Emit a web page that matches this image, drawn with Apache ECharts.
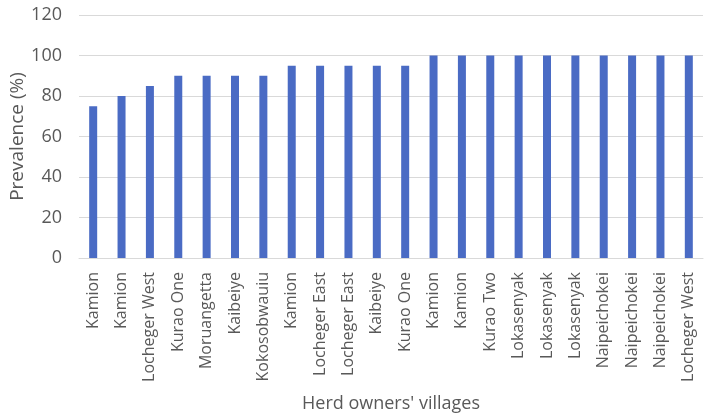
<!DOCTYPE html>
<html><head><meta charset="utf-8">
<script src="https://cdn.jsdelivr.net/npm/echarts@6/dist/echarts.min.js"></script>
<style>html,body{margin:0;padding:0;background:#fff}#c{width:708px;height:418px}</style>
</head><body><div id="c"></div>
<script>
const categories = ["Kamion","Kamion","Locheger West","Kurao One","Moruangetta","Kaibeiye","Kokosobwauiu","Kamion","Locheger East","Locheger East","Kaibeiye","Kurao One","Kamion","Kamion","Kurao Two","Lokasenyak","Lokasenyak","Lokasenyak","Naipeichokei","Naipeichokei","Naipeichokei","Locheger West"];
const prevalence = [75,80,85,90,90,90,90,95,95,95,95,95,100,100,100,100,100,100,100,100,100,100];
const yTicks = {min:0, max:120, interval:20};
const chart = echarts.init(document.getElementById('c'));
const font = "'Open Sans', sans-serif";
chart.setOption({
  animation:false,
  grid:{left:79,right:5,top:15,bottom:160,containLabel:false,outerBoundsMode:'none'},
  xAxis:{type:'category',data:categories,
    axisLine:{lineStyle:{color:'#d9d9d9'}},axisTick:{show:false},
    axisLabel:{rotate:90,color:'#595959',fontSize:16,fontFamily:font,margin:14,interval:0},
    name:"Herd owners' villages",nameLocation:'middle',nameGap:137,nameMoveOverlap:false,
    nameTextStyle:{color:'#595959',fontSize:18,fontFamily:font}},
  yAxis:{type:'value',min:yTicks.min,max:yTicks.max,interval:yTicks.interval,
    axisLine:{show:false},axisTick:{show:false},
    splitLine:{lineStyle:{color:'#d9d9d9'}},
    axisLabel:{color:'#595959',fontSize:18,fontFamily:font,margin:17},
    name:'Prevalence (%)',nameLocation:'middle',nameGap:52,nameMoveOverlap:false,
    nameTextStyle:{color:'#595959',fontSize:19,fontFamily:font}},
  series:[{type:'bar',data:prevalence,barWidth:8,itemStyle:{color:'#4a6bc4'}}]
});
</script></body></html>
